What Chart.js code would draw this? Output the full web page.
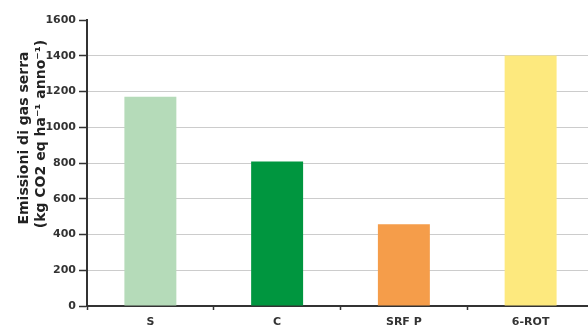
<!DOCTYPE html>
<html>
<head>
<meta charset="utf-8">
<script src="https://cdn.jsdelivr.net/npm/chart.js@4/dist/chart.umd.min.js"></script>
<style>
  html, body { margin: 0; padding: 0; background: #fff; overflow: hidden; }
  #wrap { position: relative; width: 594px; height: 327px; }
</style>
</head>
<body>
<div id="wrap"><canvas id="c"></canvas></div>
<script>
const categories = ["S", "C", "SRF P", "6-ROT"];
const emissions = [1170, 808, 458, 1402];
const barColors = ["#b5dbb9", "#00963f", "#f59d4a", "#fde97e"];
const yTicks = [0, 200, 400, 600, 800, 1000, 1200, 1400, 1600];
const yTitleLines = ["Emissioni di gas serra", "(kg CO2 eq ha\u207B\u00B9 anno\u207B\u00B9)"];

const titlePlugin = {
  id: 'sideTitle',
  afterDraw(chart) {
    const ctx = chart.ctx;
    ctx.save();
    ctx.fillStyle = '#222';
    ctx.font = 'bold 14px "DejaVu Sans"';
    ctx.textAlign = 'center';
    ctx.textBaseline = 'middle';
    const xs = [24, 41];
    const ys = [138, 134];
    yTitleLines.forEach((t, i) => {
      ctx.save();
      ctx.translate(xs[i], ys[i]);
      ctx.rotate(-Math.PI / 2);
      ctx.fillText(t, 0, 0);
      ctx.restore();
    });
    ctx.restore();
  }
};

new Chart(document.getElementById('c'), {
  type: 'bar',
  data: {
    labels: categories,
    datasets: [{
      data: emissions,
      backgroundColor: barColors,
      borderWidth: 0,
      categoryPercentage: 1,
      barPercentage: 0.41
    }]
  },
  options: {
    responsive: true,
    maintainAspectRatio: false,
    animation: false,
    devicePixelRatio: 1,
    layout: { padding: { top: 20, left: 0, right: 0, bottom: 0 } },
    plugins: { legend: { display: false }, tooltip: { enabled: false } },
    scales: {
      x: {
        afterFit(s) { s.height = 21; },
        grid: {
          offset: true,
          drawOnChartArea: false,
          drawTicks: true,
          tickLength: 4,
          tickColor: '#333',
          tickWidth: 1.5
        },
        border: { display: true, color: '#333', width: 2 },
        ticks: {
          color: '#333',
          font: { family: 'DejaVu Sans', size: 11, weight: 'bold' },
          padding: 6,
          maxRotation: 0
        }
      },
      y: {
        min: 0,
        max: 1600,
        afterFit(s) { s.width = 87; },
        afterBuildTicks(s) { s.ticks = yTicks.map(v => ({ value: v })); },
        grid: {
          color: (c) => (c.tick && c.tick.value === 1600) ? 'rgba(0,0,0,0)' : '#cccccc',
          lineWidth: 1,
          drawTicks: true,
          tickLength: 8,
          tickColor: '#333',
          tickWidth: 1.5
        },
        border: { display: true, color: '#333', width: 2 },
        ticks: {
          color: '#333',
          font: { family: 'DejaVu Sans', size: 11, weight: 'bold' },
          padding: 3,
          callback: (v) => String(v)
        }
      }
    }
  },
  plugins: [titlePlugin]
});
</script>
</body>
</html>
